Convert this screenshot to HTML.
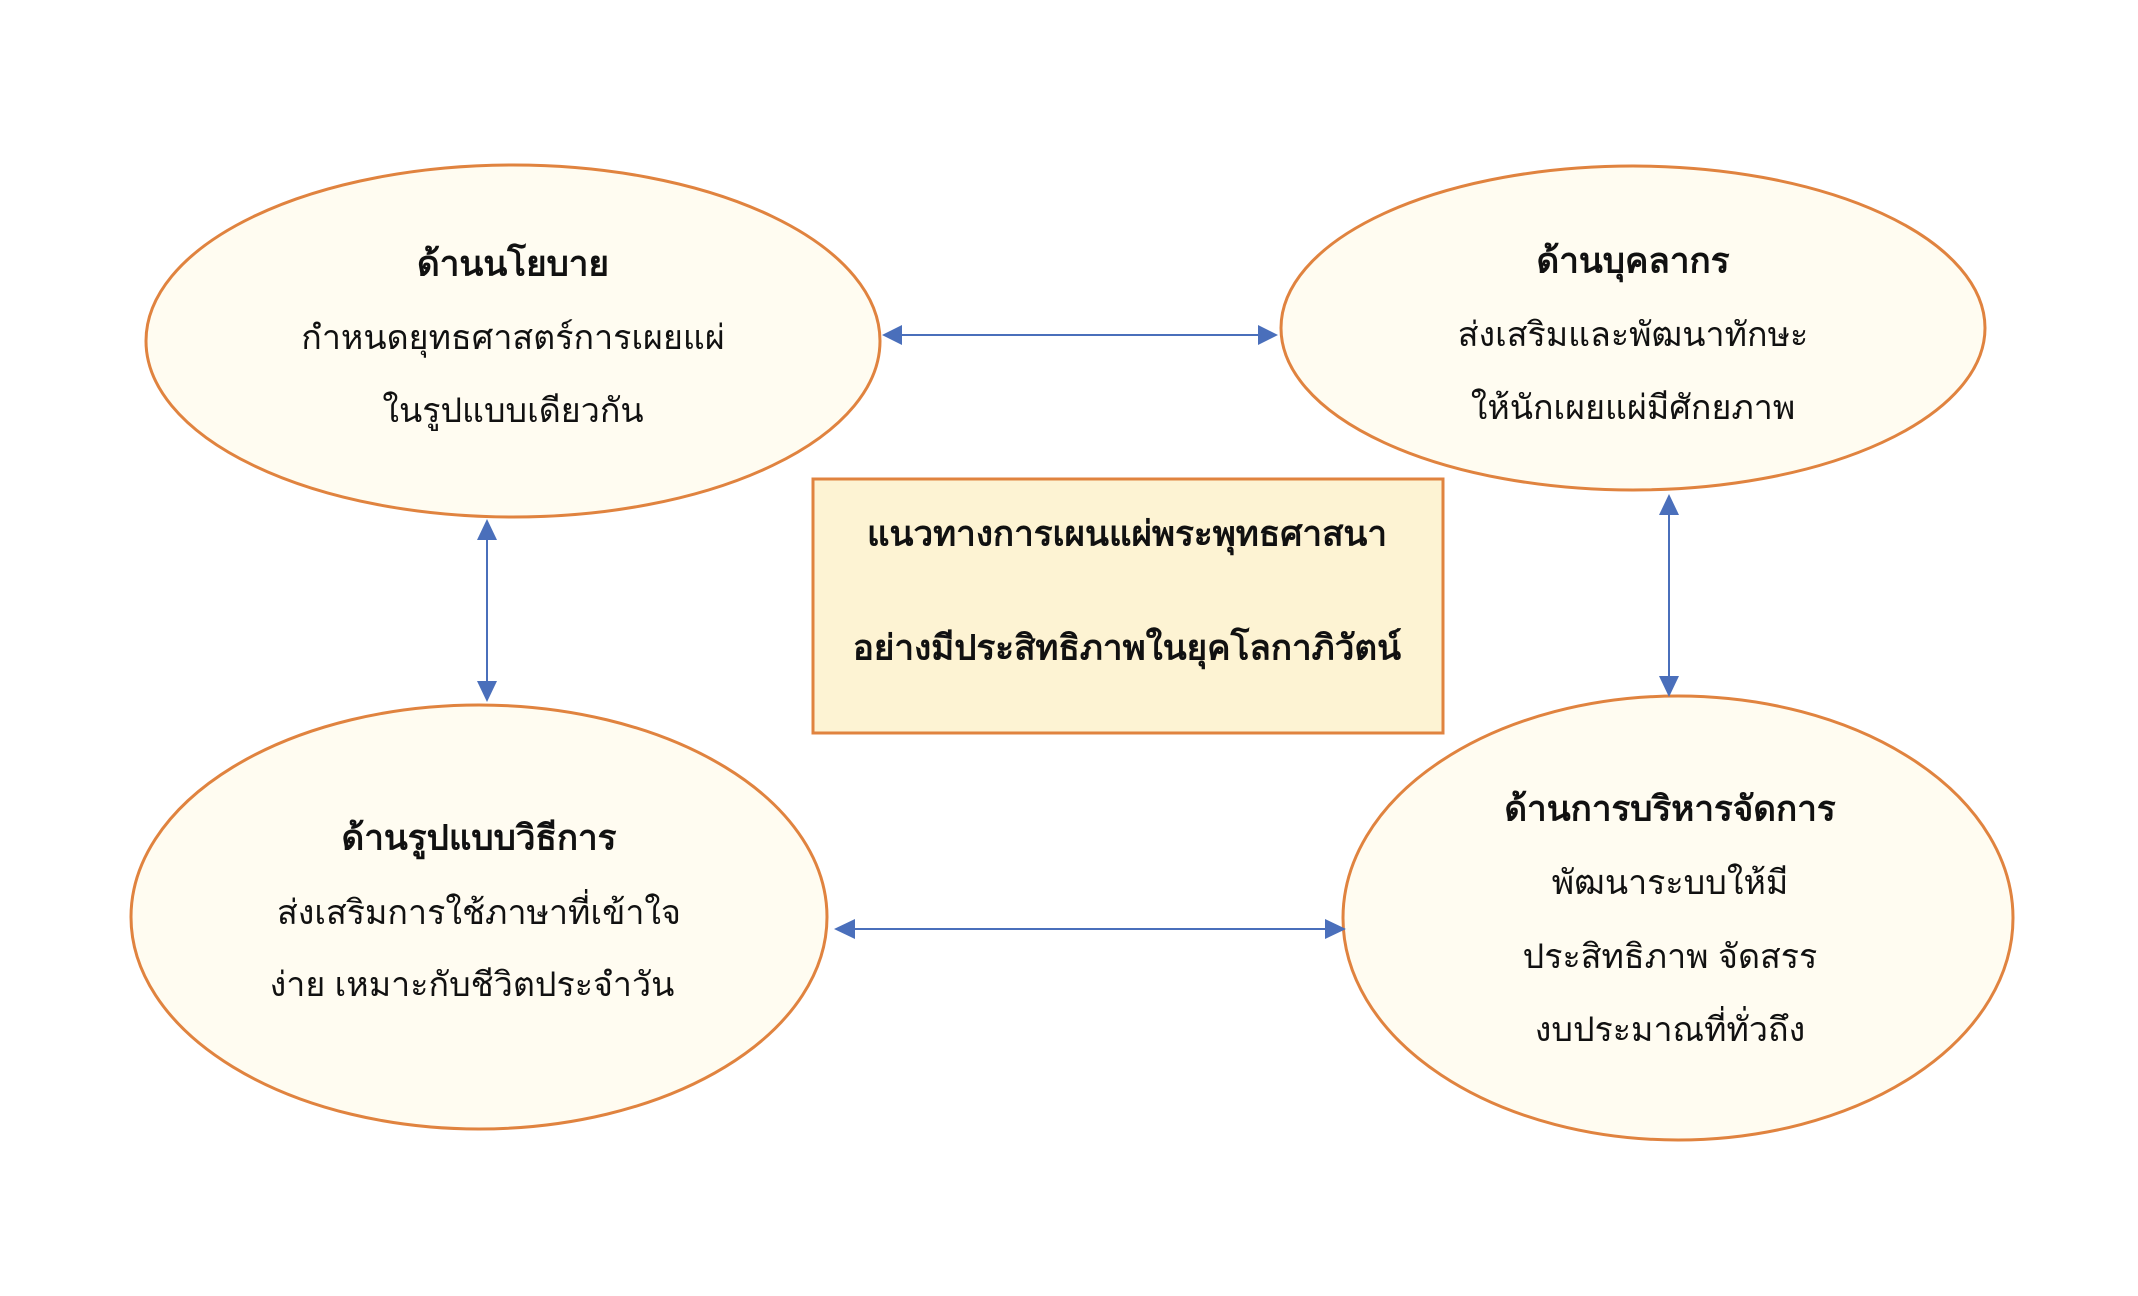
<!DOCTYPE html>
<html><head><meta charset="utf-8"><style>
html,body{margin:0;padding:0;background:#fff;}
svg{display:block;}
text{font-family:"Liberation Sans","DejaVu Sans",sans-serif;fill:#111;text-anchor:middle;dominant-baseline:middle;}
.t{font-weight:bold;font-size:35px;}
.b{font-size:34px;}
</style></head><body>
<svg width="2138" height="1296" viewBox="0 0 2138 1296" xmlns="http://www.w3.org/2000/svg">
<g stroke="#e0833f" stroke-width="3" fill="#fffcf1">
<ellipse cx="513" cy="341" rx="367" ry="176"/>
<ellipse cx="1633" cy="328" rx="352" ry="162"/>
<ellipse cx="479" cy="917" rx="348" ry="212"/>
<ellipse cx="1678" cy="918" rx="335" ry="222"/>
<rect x="813" y="479" width="630" height="254" fill="#fdf3d3"/>
</g>
<g stroke="#4a6fbb" stroke-width="2" fill="#4a6fbb">
<line x1="900" y1="335" x2="1260" y2="335"/>
<polygon points="882,335 902,325 902,345" stroke="none"/>
<polygon points="1278,335 1258,325 1258,345" stroke="none"/>
<line x1="487" y1="537" x2="487" y2="684"/>
<polygon points="487,519 477,540 497,540" stroke="none"/>
<polygon points="487,702 477,681 497,681" stroke="none"/>
<line x1="1669" y1="512" x2="1669" y2="679"/>
<polygon points="1669,494 1659,515 1679,515" stroke="none"/>
<polygon points="1669,697 1659,676 1679,676" stroke="none"/>
<line x1="852" y1="929" x2="1328" y2="929"/>
<polygon points="834,929 855,919 855,939" stroke="none"/>
<polygon points="1346,929 1325,919 1325,939" stroke="none"/>
</g>
<text class="t" x="513" y="266">ด้านนโยบาย</text>
<text class="b" x="513" y="340">กำหนดยุทธศาสตร์การเผยแผ่</text>
<text class="b" x="513" y="413">ในรูปแบบเดียวกัน</text>
<text class="t" x="1633" y="263">ด้านบุคลากร</text>
<text class="b" x="1633" y="337">ส่งเสริมและพัฒนาทักษะ</text>
<text class="b" x="1633" y="410">ให้นักเผยแผ่มีศักยภาพ</text>
<text class="t" x="479" y="840">ด้านรูปแบบวิธีการ</text>
<text class="b" x="479" y="915">ส่งเสริมการใช้ภาษาที่เข้าใจ</text>
<text class="b" x="472" y="987">ง่าย เหมาะกับชีวิตประจำวัน</text>
<text class="t" x="1670" y="811">ด้านการบริหารจัดการ</text>
<text class="b" x="1670" y="885">พัฒนาระบบให้มี</text>
<text class="b" x="1670" y="959">ประสิทธิภาพ จัดสรร</text>
<text class="b" x="1670" y="1032">งบประมาณที่ทั่วถึง</text>
<text class="t" x="1127" y="536">แนวทางการเผนแผ่พระพุทธศาสนา</text>
<text class="t" x="1127" y="650">อย่างมีประสิทธิภาพในยุคโลกาภิวัตน์</text>
</svg>
</body></html>
